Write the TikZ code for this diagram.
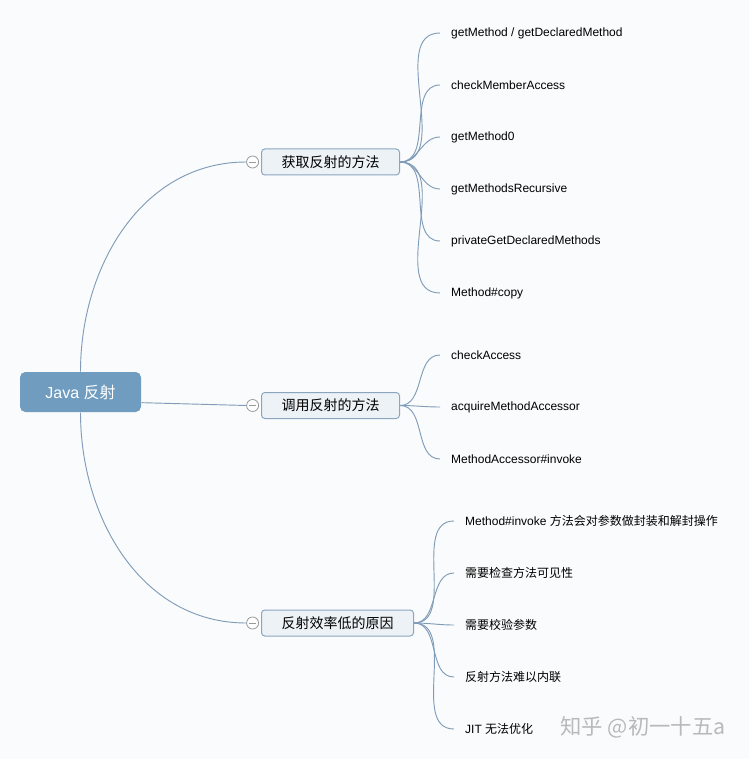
\documentclass[tikz,border=0pt]{standalone}
\usepackage{fontspec}
\setmainfont{Liberation Sans}
\newfontfamily\cjk{Noto Sans CJK SC}
\usetikzlibrary{positioning,calc}
\definecolor{bgcol}{RGB}{250,251,252}
\definecolor{rootcol}{RGB}{111,156,191}
\definecolor{topicfill}{RGB}{237,242,247}
\definecolor{topicline}{RGB}{140,165,190}
\definecolor{linkcol}{RGB}{128,156,184}
\colorlet{foldcol}{gray!80}

\begin{document}
\begin{tikzpicture}[x=0.75pt, y=-0.75pt, line width=0.75pt]
\tikzstyle{root}=[fill=rootcol, text=white, rounded corners=4pt, minimum width=90.75pt, minimum height=30pt, font=\fontsize{12}{14}\selectfont]
\tikzstyle{topic}=[draw=topicline, fill=topicfill, rounded corners=2.5pt, anchor=west, minimum height=19.5pt, inner xsep=15pt, inner ysep=0pt, font=\cjk\fontsize{10.5}{12}\selectfont]
\tikzstyle{fold}=[circle, draw=foldcol, fill=white, line width=0.6pt, minimum size=9pt, inner sep=0pt,
  path picture={\draw[foldcol, line width=0.6pt] ([xshift=1.8pt]path picture bounding box.west) -- ([xshift=-1.8pt]path picture bounding box.east);}]
\tikzstyle{leaf}=[anchor=west, inner xsep=8pt, font=\fontsize{9}{11}\selectfont]
\tikzstyle{link}=[draw=linkcol, line width=0.7pt]

\useasboundingbox[fill=bgcol] (0,0) rectangle (749,759);

% centre
\node[root] (java) at (80.5,392) {Java {\cjk 反射}};

% main branches
\node[topic] (getting) at (261,162) {获取反射的方法};
\node[topic] (calling) at (261,405.5) {调用反射的方法};
\node[topic] (slow) at (261,623) {反射效率低的原因};
\node[fold, left=1.5pt of getting] (foldget) {};
\node[fold, left=1.5pt of calling] (foldcall) {};
\node[fold, left=1.5pt of slow] (foldslow) {};

\draw[link] (java.north) to[out=90, in=180] (foldget.west);
\draw[link] ([yshift=-8pt]java.east) -- (foldcall.west);
\draw[link] (java.south) to[out=-90, in=180] (foldslow.west);

% leaves of getting
\node[leaf] (gm) at (440,33) {getMethod / getDeclaredMethod};
\node[leaf] (cma) at (440,85) {checkMemberAccess};
\node[leaf] (gm0) at (440,137) {getMethod0};
\node[leaf] (gmr) at (440,189) {getMethodsRecursive};
\node[leaf] (pgdm) at (440,241) {privateGetDeclaredMethods};
\node[leaf] (mcopy) at (440,293) {Method\#copy};
\foreach \n in {gm,cma,gm0,gmr,pgdm,mcopy}
  \draw[link] (getting.east) to[out=0, in=180] (\n.west);

% leaves of calling
\node[leaf] (ca) at (440,355) {checkAccess};
\node[leaf] (ama) at (440,407) {acquireMethodAccessor};
\node[leaf] (mai) at (440,459) {MethodAccessor\#invoke};
\foreach \n in {ca,ama,mai}
  \draw[link] (calling.east) to[out=0, in=180] (\n.west);

% leaves of slow
\node[leaf] (wrap) at (454,521) {Method\#invoke {\cjk 方法会对参数做封装和解封操作}};
\node[leaf] (vis) at (454,573) {\cjk 需要检查方法可见性};
\node[leaf] (args) at (454,625) {\cjk 需要校验参数};
\node[leaf] (inl) at (454,677) {\cjk 反射方法难以内联};
\node[leaf] (jit) at (454,729) {JIT {\cjk 无法优化}};
\foreach \n in {wrap,vis,args,inl,jit}
  \draw[link] (slow.east) to[out=0, in=180] (\n.west);

% watermark
\node[text=gray!55, font=\cjk\fontsize{16}{18}\selectfont] (mark) at (643,727) {知乎 @初一十五a};
\end{tikzpicture}
\end{document}
